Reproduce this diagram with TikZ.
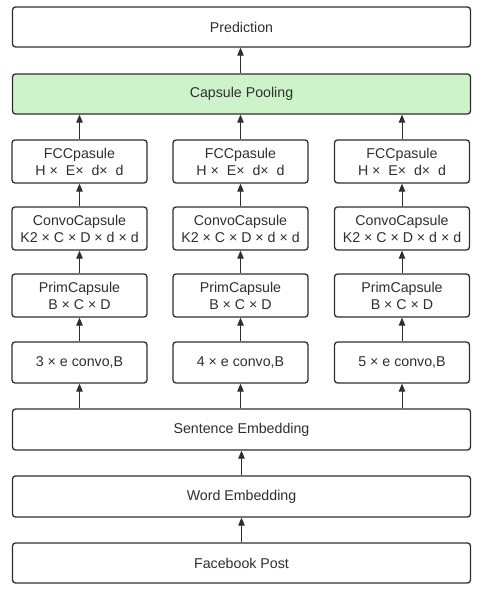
\documentclass[tikz,border=0pt]{standalone}
\usepackage{fontspec}
\setmainfont{Liberation Sans}
\usetikzlibrary{arrows.meta}
\definecolor{ink}{HTML}{2E2E2E}
\definecolor{poolgreen}{HTML}{CDF3CB}
\tikzset{
  box/.style={draw=ink, text=ink, rounded corners=3pt, line width=1.3pt, inner sep=0pt,
    align=center, font=\fontsize{14.2}{17}\selectfont},
  wide/.style={box, minimum width=458pt, minimum height=40pt},
  col/.style={box, minimum width=135pt, minimum height=43pt},
  arr/.style={draw=ink, line width=0.9pt, -{Triangle[length=8pt,width=6.5pt]}}
}
\begin{document}
\begin{tikzpicture}[x=1pt,y=-1pt]
\useasboundingbox (0,0) rectangle (480,593);
\node[wide] (pred) at (241.5,27) {Prediction};
\node[wide, fill=poolgreen] (pool) at (241.5,94) {Capsule Pooling};
\foreach \i/\x/\k in {1/79.5/3, 2/240.5/4, 3/402/5} {
  \node[col] (fcc\i) at (\x,161.5) {FCCpasule\\H × \ E× \ d× \ d};
  \node[col] (conv\i) at (\x,228.5) {ConvoCapsule\\K2 × C × D × d × d};
  \node[col] (prim\i) at (\x,295.5) {PrimCapsule\\B × C × D};
  \node[col, minimum height=41pt] (cb\i) at (\x,362.5) {\k\ × e convo,B};
}
\node[wide, minimum height=41pt] (sent) at (241.5,429.5) {Sentence Embedding};
\node[wide, minimum height=41pt] (word) at (241.5,496.5) {Word Embedding};
\node[wide] (fb) at (241.5,563) {Facebook Post};
\draw[arr] (pool.north -| fcc2) -- (pred.south -| fcc2);
\foreach \i in {1,2,3} {
  \draw[arr] (fcc\i.north) -- (pool.south -| fcc\i);
  \draw[arr] (conv\i.north) -- (fcc\i.south);
  \draw[arr] (prim\i.north) -- (conv\i.south);
  \draw[arr] (cb\i.north) -- (prim\i.south);
  \draw[arr] (sent.north -| cb\i) -- (cb\i.south);
}
\draw[arr] (word.north) -- (sent.south);
\draw[arr] (fb.north) -- (word.south);
\end{tikzpicture}
\end{document}
